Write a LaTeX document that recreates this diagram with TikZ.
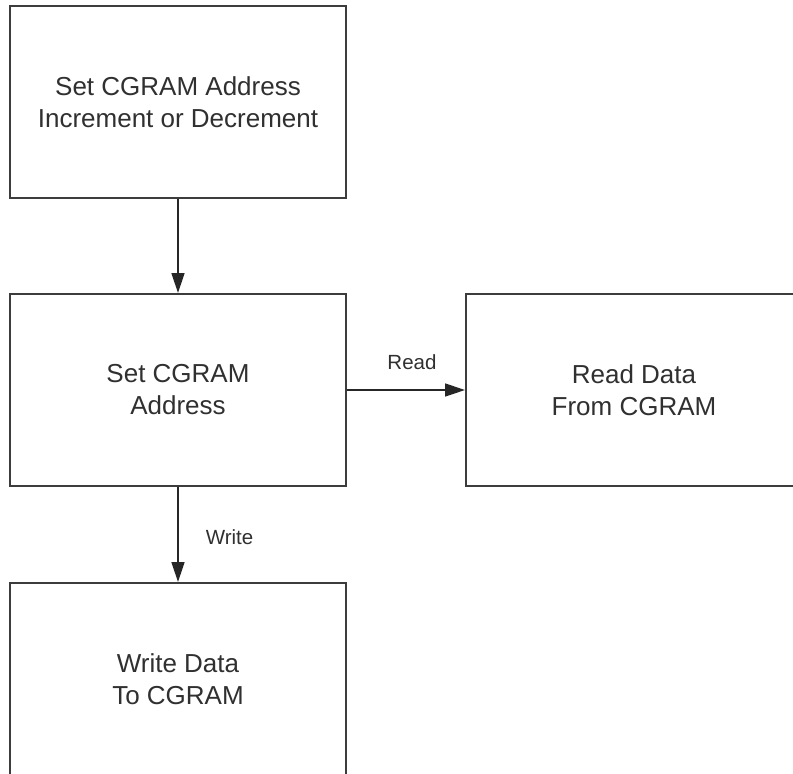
\documentclass[tikz,border=0pt]{standalone}
\usepackage{fontspec}
\setmainfont{Liberation Sans}
\usetikzlibrary{arrows.meta}
\definecolor{boxline}{HTML}{3C3C3C}
\definecolor{txt}{HTML}{303030}
\begin{document}
\begin{tikzpicture}[x=1pt,y=-1pt,
  blk/.style={draw=boxline, line width=2pt, fill=white, minimum width=336pt, minimum height=192pt,
    inner sep=0pt, align=center, font=\fontsize{26}{32}\selectfont, text=txt},
  conn/.style={draw=black!85, line width=1.4pt, -{Triangle[length=20pt,width=13pt]}},
  lbl/.style={font=\fontsize{20.5}{24}\selectfont, text=txt, inner sep=0pt}]
\useasboundingbox (0,0) rectangle (793,774);
\clip (0,0) rectangle (793,774);
\node[blk] (b1) at (178,102) {Set CGRAM Address\\Increment or Decrement};
\node[blk] (b2) at (178,390) {Set CGRAM\\Address};
\node[blk] (b3) at (634,390) {Read Data\\From CGRAM};
\node[blk] (b4) at (178,679) {Write Data\\To CGRAM};
\draw[conn] (b1) -- (b2);
\draw[conn] (b2) -- (b3);
\draw[conn] (b2) -- (b4);
\node[lbl] (rl) at (412,362) {Read};
\node[lbl] (wl) at (229.5,537) {Write};
\end{tikzpicture}
\end{document}
